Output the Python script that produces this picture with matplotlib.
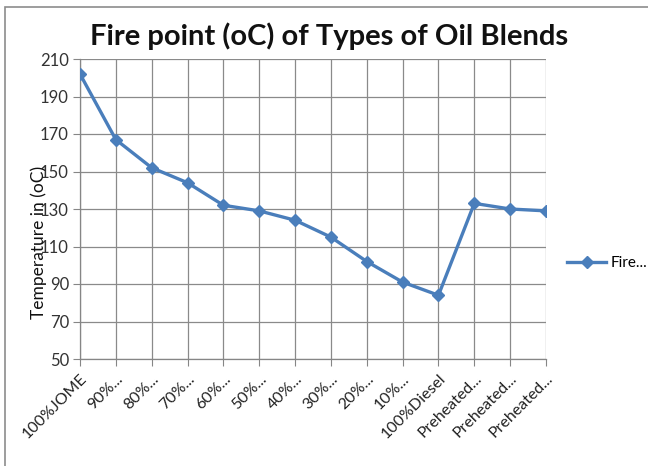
import matplotlib
matplotlib.use("Agg")
import matplotlib.pyplot as plt
from matplotlib.patches import Rectangle

categories = ["100%JOME", "90%...", "80%...", "70%...", "60%...", "50%...", "40%...",
              "30%...", "20%...", "10%...", "100%Diesel", "Preheated...", "Preheated...",
              "Preheated..."]
fire_point = [202, 167, 152, 144, 132, 129, 124, 115, 102, 91, 84, 133, 130, 129]
y_ticks = [50, 70, 90, 110, 130, 150, 170, 190, 210]

plt.rcParams['font.family'] = ['Lato', 'DejaVu Sans']

fig = plt.figure(figsize=(6.48, 4.66), dpi=100)
ax = fig.add_axes([80/648, 1-359/466, (546-80)/648, (359-59)/466])

# outer chart border
fig.patches.append(Rectangle((5/648, -0.05), 1.0, 1-7/466+0.05, transform=fig.transFigure,
                             fill=False, edgecolor='#8c8c8c', linewidth=1.2))

x = list(range(len(categories)))
ax.plot(x, fire_point, color='#4A7EBB', linewidth=2.4, marker='D', markersize=6.5,
        markerfacecolor='#4A7EBB', markeredgecolor='#4A7EBB', label='Fire...', zorder=3)

ax.set_xlim(0, len(categories)-1)
ax.set_ylim(50, 210)
ax.set_yticks(y_ticks)
ax.set_xticks(x)
ax.set_xticklabels(categories, rotation=45, ha='right', rotation_mode='anchor',
                   fontsize=11.5, color='#222222')
ax.tick_params(axis='y', labelsize=12, labelcolor='#333333', length=5, color='#868686', pad=3)
ax.tick_params(axis='x', length=5, color='#868686', pad=4)
ax.grid(True, color='#8a8a8a', linewidth=0.9)
ax.set_axisbelow(True)
for s in ['top', 'right']:
    ax.spines[s].set_visible(False)
for s in ['left', 'bottom']:
    ax.spines[s].set_color('#868686')
    ax.spines[s].set_linewidth(0.9)

fig.text(39/648, 1-242/466, "Temperature in (oC)", rotation=90, ha='center', va='center',
         fontsize=12.5, color='#111111')
fig.text(329/648, 1-36/466, "Fire point (oC) of Types of Oil Blends", ha='center', va='center',
         fontsize=21, fontweight='bold', color='#111111')

leg = fig.legend(loc='center left', bbox_to_anchor=(553/648, 1-263/466), frameon=False,
                 fontsize=11, handlelength=2.6, handletextpad=0.3)

fig.savefig("out.png", dpi=100)
